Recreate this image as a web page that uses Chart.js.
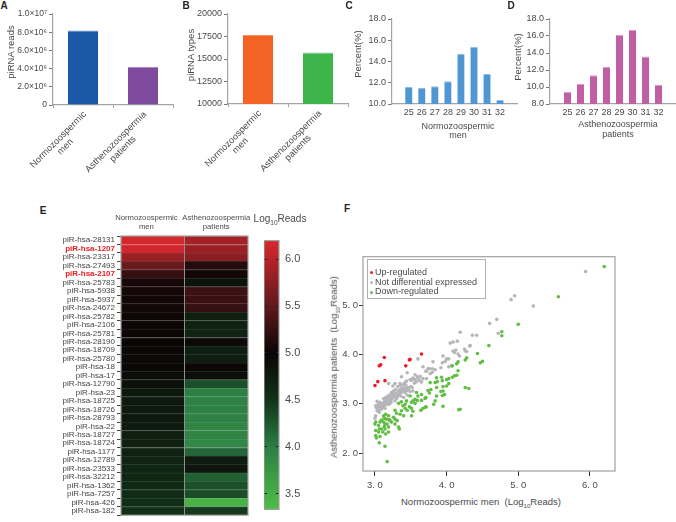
<!DOCTYPE html>
<html>
<head>
<meta charset="utf-8">
<title>piRNA panels</title>
<script src="https://cdn.jsdelivr.net/npm/chart.js@4"></script>
<style>
  html, body { margin: 0; padding: 0; background: #fff; }
  body { position: relative; width: 676px; height: 522px; overflow: hidden; font-family: "Liberation Sans", Arial, sans-serif; color: #4a4a4a; }
  canvas { position: absolute; }
  .txt { position: absolute; white-space: nowrap; transform: translate(-50%, -50%); text-align: center; line-height: 1.1; }
  sub { font-size: 0.65em; line-height: 0; }
  .letter { font-weight: bold; font-size: 10px; color: #222; }
  #legend { position: absolute; left: 367px; top: 259px; width: 117px; height: 38px; border: 1px solid #b0b0b0; font-size: 9px; z-index: 2; }
  #legend div { position: absolute; left: 2px; white-space: nowrap; line-height: 10px; }
  #legend i { display: inline-block; width: 3px; height: 3px; border-radius: 50%; margin-right: 2px; vertical-align: middle; }
</style>
</head>
<body>
<div id="legend"></div>
<script>
// ======================
// Data
// ======================
const groupLabels = [["Normozoospermic", "men"], ["Asthenozoospermia", "patients"]];

const readsValues = [8200000, 4200000];
const readsTicks = { 0: "0", 2000000: "2.0×10⁶", 4000000: "4.0×10⁶", 6000000: "6.0×10⁶", 8000000: "8.0×10⁶", 10000000: "1.0×10⁷" };
const typesValues = [17680, 15710];

const lengths = [25, 26, 27, 28, 29, 30, 31, 32];
const percentNormo = [11.6, 11.5, 11.67, 12.14, 14.74, 15.4, 12.82, 10.37];
const percentAstheno = [9.42, 10.36, 11.39, 12.37, 16.15, 16.74, 13.59, 10.24];

const piRnaNames = ["piR-hsa-28131", "piR-hsa-1207", "piR-hsa-23317", "piR-hsa-27493", "piR-hsa-2107", "piR-hsa-25783",
  "piR-hsa-5938", "piR-hsa-5937", "piR-hsa-24672", "piR-hsa-25782", "piR-hsa-2106", "piR-hsa-25781", "piR-hsa-28190",
  "piR-hsa-18709", "piR-hsa-25780", "piR-hsa-18", "piR-hsa-17", "piR-hsa-12790", "piR-hsa-23", "piR-hsa-18725",
  "piR-hsa-18726", "piR-hsa-28793", "piR-hsa-22", "piR-hsa-18727", "piR-hsa-18724", "piR-hsa-1177", "piR-hsa-12789",
  "piR-hsa-23533", "piR-hsa-32212", "piR-hsa-1362", "piR-hsa-7257", "piR-hsa-426", "piR-hsa-182"];
const highlighted = ["piR-hsa-1207", "piR-hsa-2107"];
const heatNormo = [6.18, 6.15, 5.85, 5.55, 5.25, 5.08, 5.06, 5.05, 5.04, 5.03, 5.02, 5.02, 5.0, 4.98, 4.96, 4.95, 4.9,
  4.88, 4.78, 4.78, 4.78, 4.78, 4.76, 4.7, 4.7, 4.68, 4.65, 4.63, 4.62, 4.6, 4.58, 4.55, 4.52];
const heatAstheno = [5.9, 5.85, 5.75, 5.15, 5.05, 4.85, 5.3, 5.28, 5.25, 4.7, 4.68, 4.66, 4.95, 4.72, 4.72, 5.02, 4.9,
  4.3, 3.98, 3.96, 3.96, 3.95, 3.93, 3.92, 3.9, 4.15, 4.75, 4.8, 4.2, 4.3, 4.32, 3.45, 4.45];
const heatStops = [[3.33, 78, 190, 72], [4.0, 44, 125, 68], [4.5, 18, 50, 25], [5.0, 10, 5, 5], [5.5, 95, 25, 28], [6.2, 216, 40, 46]];

const seriesNames = ["Up-regulated", "Not differential expressed", "Down-regulated"];
const seriesColors = ["#ed1c24", "#b6b6ba", "#62bd45"];
const upPoints = [[3.13, 3.94], [3.08, 3.79], [3.06, 3.77], [3.48, 3.89], [3.49, 3.9], [3.43, 3.77], [3.65, 4.01], [3.04, 3.45], [3.14, 3.47], [3.0, 3.37]];
const notDiffPoints = [[5.94, 5.68], [5.21, 4.98], [4.95, 5.19], [4.9, 5.11], [4.6, 4.63], [4.7, 4.71], [4.19, 4.45], [4.36, 4.39],
  [4.42, 4.39], [4.72, 4.43], [4.15, 4.27], [4.33, 4.18], [4.05, 4.23], [4.09, 4.25], [4.09, 4.07], [4.13, 4.09], [4.16, 4.01],
  [4.18, 3.97], [4.25, 4.11], [4.26, 4.07], [4.32, 4.17], [4.28, 4.06], [3.95, 3.97], [4.0, 3.91], [4.03, 3.91], [3.94, 3.83],
  [3.92, 3.73], [4.03, 3.75], [4.07, 3.77], [3.8, 3.71], [3.74, 3.71], [3.72, 3.66], [3.77, 3.61], [3.84, 3.69], [3.72, 3.51],
  [3.6, 3.91], [3.81, 3.85], [3.67, 3.75], [3.76, 3.71], [3.71, 3.66], [3.8, 3.64], [3.45, 3.63], [3.37, 3.55], [3.56, 3.59],
  [3.63, 3.56], [3.67, 3.51], [3.6, 3.53], [3.56, 3.49], [3.49, 3.49], [3.44, 3.46], [3.35, 3.41], [3.28, 3.41], [3.19, 3.41],
  [3.4, 3.39], [3.25, 3.36], [3.43, 3.38], [3.29, 3.29], [3.26, 3.26], [3.23, 3.23], [3.21, 3.18], [3.33, 3.25], [3.37, 3.23],
  [3.42, 3.23], [3.49, 3.25], [3.53, 3.26], [3.45, 3.18], [3.28, 3.16], [3.19, 3.11], [3.14, 3.06], [3.23, 3.09], [3.3, 3.11],
  [3.36, 3.16], [3.4, 3.13], [3.03, 3.05], [3.07, 3.03], [3.11, 3.01], [3.16, 3.03], [3.2, 3.06], [3.01, 2.96], [3.06, 2.94],
  [3.12, 2.96], [3.15, 2.98], [3.19, 2.99], [3.26, 3.14], [3.09, 2.89], [3.03, 2.86], [3.01, 2.76], [3.06, 2.83], [3.0, 2.71],
  [3.14, 2.91], [3.22, 3.03], [3.28, 3.06], [3.33, 3.18], [3.16, 3.07], [3.05, 2.88], [3.08, 2.95], [3.1, 2.99], [3.13, 3.02],
  [3.17, 3.08], [3.2, 3.12], [3.22, 3.15], [3.24, 3.19], [3.26, 3.21], [3.29, 3.22], [3.31, 3.19], [3.34, 3.28], [3.37, 3.31],
  [3.4, 3.32], [3.43, 3.31], [3.46, 3.33], [3.5, 3.35], [3.52, 3.33], [3.55, 3.42], [3.58, 3.45], [3.62, 3.48], [3.65, 3.44],
  [3.02, 2.92], [3.12, 3.1], [3.15, 3.13], [3.18, 3.16], [3.22, 3.02], [3.04, 2.98], [3.08, 3.0], [3.1, 2.93], [3.13, 2.98],
  [3.18, 3.03], [3.2, 3.0], [3.24, 3.12], [3.27, 3.17], [3.31, 3.14], [3.35, 3.22], [3.38, 3.27], [3.41, 3.27], [3.45, 3.27],
  [3.47, 3.3], [3.51, 3.48], [3.53, 3.52], [3.59, 3.55], [3.41, 3.42], [3.36, 3.37], [3.32, 3.35], [3.98, 3.86], [4.11, 4.04]];
const downPoints = [[6.2, 5.78], [5.56, 5.17], [5.0, 4.61], [4.77, 4.46], [4.77, 4.38], [4.59, 4.18], [4.43, 4.02], [4.28, 3.93],
  [4.26, 3.89], [4.5, 3.86], [4.47, 3.83], [4.16, 3.85], [4.14, 3.81], [4.08, 3.77], [4.16, 3.67], [4.14, 3.58], [4.11, 3.57],
  [4.08, 3.54], [4.03, 3.51], [4.0, 3.49], [3.93, 3.54], [3.86, 3.53], [3.94, 3.47], [3.87, 3.45], [3.84, 3.43], [3.77, 3.43],
  [4.03, 3.41], [4.0, 3.36], [3.95, 3.35], [3.86, 3.33], [3.78, 3.29], [3.74, 3.27], [3.76, 3.22], [3.95, 3.26], [3.92, 3.25],
  [3.97, 3.19], [3.94, 3.17], [3.86, 3.16], [3.84, 3.06], [3.82, 2.99], [3.71, 3.13], [3.95, 2.95], [4.26, 3.33], [4.31, 3.31],
  [4.19, 2.89], [4.17, 2.88], [3.71, 2.93], [3.12, 2.76], [3.15, 2.79], [3.19, 2.76], [3.13, 2.71], [3.09, 2.67], [3.16, 2.69],
  [3.2, 2.68], [3.26, 2.73], [3.28, 2.69], [3.31, 2.66], [3.23, 2.63], [3.28, 2.59], [3.33, 2.53], [3.34, 2.49], [3.01, 2.63],
  [3.0, 2.59], [3.05, 2.56], [3.01, 2.46], [3.07, 2.63], [3.12, 2.63], [3.14, 2.59], [3.17, 2.59], [3.19, 2.53], [3.21, 2.66],
  [3.14, 2.49], [3.11, 2.43], [3.05, 2.43], [3.07, 2.34], [3.02, 2.31], [3.06, 2.21], [3.14, 2.14], [3.13, 2.54], [3.06, 2.49],
  [3.09, 2.49], [3.01, 2.36], [3.15, 2.39], [3.19, 2.43], [3.17, 1.83], [3.33, 3.01], [3.37, 3.04], [3.44, 3.06], [3.49, 3.16],
  [3.58, 3.23], [3.6, 3.16], [3.56, 3.09], [3.53, 3.06], [3.51, 3.03], [3.65, 3.19], [3.7, 3.11], [3.65, 3.07], [3.39, 2.96],
  [3.42, 2.91], [3.37, 2.86], [3.35, 2.79], [3.4, 2.76], [3.28, 2.87], [3.3, 2.81], [3.51, 2.91], [3.53, 2.85], [3.51, 2.76],
  [3.64, 2.87], [3.67, 2.91], [3.71, 2.94], [3.56, 3.01], [3.59, 3.07], [3.45, 2.87], [3.48, 2.94], [3.42, 2.99]];

// ======================
// Helpers
// ======================
Chart.defaults.font.family = '"Liberation Sans", Arial, sans-serif';
Chart.defaults.font.size = 9;
Chart.defaults.color = "#4a4a4a";
Chart.defaults.animation = false;
Chart.defaults.responsive = false;
Chart.defaults.plugins.legend.display = false;
Chart.defaults.plugins.tooltip.enabled = false;

const AXIS = "#a3a3a3";

// canvas placed so that the plot area lands on l,t,r,b
// ml/mt/mr/mb is the room around the plot, axes included
function makeChart(l, t, r, b, ml, mt, mr, mb, config) {
  const c = document.createElement("canvas");
  c.width = r - l + ml + mr;
  c.height = b - t + mt + mb;
  c.style.left = l - ml + "px";
  c.style.top = t - mt + "px";
  document.body.appendChild(c);
  const topAxis = config.options.scales.x.position === "top";
  const rightAxis = config.options.scales.y.position === "right";
  config.options.layout = { padding: { top: topAxis ? 0 : mt, right: rightAxis ? 0 : mr } };
  config.options.scales.x.afterFit = (s) => { s.height = topAxis ? mt : mb; };
  config.options.scales.y.afterFit = (s) => { s.width = rightAxis ? mr : ml; };
  return new Chart(c.getContext("2d"), config);
}

function addText(html, x, y, size, rotate, cls) {
  const d = document.createElement("div");
  d.className = "txt" + (cls ? " " + cls : "");
  d.innerHTML = html;
  d.style.left = x + "px";
  d.style.top = y + "px";
  if (size) d.style.fontSize = size + "px";
  if (rotate) d.style.transform = "translate(-50%, -50%) rotate(" + rotate + "deg)";
  document.body.appendChild(d);
}

// two-line x labels turned 45 degrees, lines centred on each other
const slantLabels = {
  id: "slantLabels",
  afterDraw(chart) {
    const ctx = chart.ctx;
    const scale = chart.scales.x;
    ctx.save();
    ctx.font = '9.3px "Liberation Sans", Arial, sans-serif';
    ctx.fillStyle = "#4a4a4a";
    ctx.textAlign = "center";
    ctx.textBaseline = "middle";
    chart.data.labels.forEach((lines, i) => {
      const w = ctx.measureText(lines[0]).width;
      ctx.save();
      ctx.translate(scale.getPixelForTick(i) + 2, scale.top + 8);
      ctx.rotate(-Math.PI / 4);
      lines.forEach((line, n) => ctx.fillText(line, -w / 2, n * 10));
      ctx.restore();
    });
    ctx.restore();
  },
};

const frame = {
  id: "frame",
  afterDraw(chart) {
    const a = chart.chartArea;
    chart.ctx.save();
    chart.ctx.strokeStyle = "#a0a0a0";
    chart.ctx.lineWidth = 1.2;
    chart.ctx.strokeRect(a.left, a.top, a.right - a.left, a.bottom - a.top);
    chart.ctx.restore();
  },
};

function heatColor(v, lighten) {
  let i = 0;
  while (i < heatStops.length - 2 && v > heatStops[i + 1][0]) i++;
  const a = heatStops[i], b = heatStops[i + 1];
  const f = Math.min(1, Math.max(0, (v - a[0]) / (b[0] - a[0])));
  const w = lighten || 0;
  const ch = [1, 2, 3].map((k) => {
    const c = a[k] + (b[k] - a[k]) * f;
    return Math.round(c + (255 - c) * w);
  });
  return "rgb(" + ch.join(",") + ")";
}

function barAxes(yMin, yMax, step, yCallback, xExtra, tickSize) {
  return {
    x: Object.assign({
      grid: { display: true, drawOnChartArea: false, drawTicks: true, tickLength: 3, tickColor: AXIS },
      border: { color: AXIS, width: 1.2 },
    }, xExtra),
    y: {
      min: yMin,
      max: yMax,
      ticks: { stepSize: step, callback: yCallback, padding: 2, color: "#4a4a4a", font: { size: tickSize || 9 } },
      grid: { display: true, drawOnChartArea: false, tickLength: 4, tickColor: "#777" },
      border: { color: AXIS, width: 1.2 },
    },
  };
}

// ======================
// A, B: totals
// ======================
makeChart(53, 14, 173, 105.5, 40, 8, 4, 75, {
  type: "bar",
  data: {
    labels: groupLabels,
    datasets: [{ data: readsValues, backgroundColor: ["#1a58a6", "#7d4a9d"], borderColor: ["#5c8ac4", "#a184ba"], borderWidth: { top: 1 }, borderSkipped: false, barPercentage: 0.5, categoryPercentage: 1 }],
  },
  options: { scales: barAxes(0, 10000000, 2000000, (v) => readsTicks[v], { ticks: { display: false } }, 8.5) },
  plugins: [slantLabels],
});

makeChart(228, 14, 348, 104.5, 40, 8, 4, 75, {
  type: "bar",
  data: {
    labels: groupLabels,
    datasets: [{ data: typesValues, backgroundColor: ["#f26324", "#3db54a"], borderColor: ["#f78f60", "#78cc81"], borderWidth: { top: 1 }, borderSkipped: false, barPercentage: 0.5, categoryPercentage: 1 }],
  },
  options: { scales: barAxes(10000, 20000, 2500, (v) => String(v), { ticks: { display: false } }) },
  plugins: [slantLabels],
});

// ======================
// C, D: read length
// ======================
function lengthAxis(min, max) {
  return {
    type: "linear",
    min: min,
    max: max,
    ticks: { stepSize: 1, includeBounds: false, autoSkip: false, minRotation: 0, maxRotation: 0, padding: 3, color: "#4a4a4a", font: { size: 9 }, callback: (v) => String(v) },
    grid: { display: true, drawOnChartArea: false, drawTicks: false },
    border: { color: AXIS, width: 1.2 },
  };
}

makeChart(392, 19, 517, 104.5, 34, 8, 4, 24, {
  type: "bar",
  data: { labels: lengths, datasets: [{ data: percentNormo, backgroundColor: "#4f97d3", borderColor: "#8dbde4", borderWidth: { top: 1 }, borderSkipped: false, barPercentage: 0.56, categoryPercentage: 1 }] },
  options: { scales: barAxes(10, 18, 2, (v) => v.toFixed(1), lengthAxis(24.31, 32.7)) },
});

makeChart(549.5, 19, 676, 104, 34, 8, 0, 24, {
  type: "bar",
  data: { labels: lengths, datasets: [{ data: percentAstheno, backgroundColor: "#c05fa3", borderColor: "#dc9ac8", borderWidth: { top: 1 }, borderSkipped: false, barPercentage: 0.56, categoryPercentage: 1 }] },
  options: { scales: barAxes(8, 18, 2, (v) => v.toFixed(1), lengthAxis(24.26, 32.73)) },
});

// ======================
// E: heat map as floating bars
// ======================
function heatDataset(values, from) {
  return {
    data: values.map(() => [from, from + 1]),
    backgroundColor: values.map((v) => heatColor(v)),
    borderColor: values.map((v) => heatColor(v, 0.1)),
    borderWidth: { top: 1 },
    borderSkipped: false,
    barPercentage: 1,
    categoryPercentage: 1,
    grouped: false,
  };
}

makeChart(120.5, 236, 248, 520, 66, 24, 10, 2, {
  type: "bar",
  data: { labels: piRnaNames, datasets: [heatDataset(heatNormo, 0), heatDataset(heatAstheno, 1)] },
  options: {
    indexAxis: "y",
    scales: {
      x: {
        position: "top",
        min: 0,
        max: 2,
        // the first header sits a little left of its column in the reference
        afterBuildTicks: (s) => { s.ticks = [{ value: 0.4 }, { value: 1 }, { value: 1.5 }]; },
        ticks: {
          autoSkip: false, minRotation: 0, maxRotation: 0, padding: 4, font: { size: 7.7 },
          callback: (v) => (v === 0.4 ? groupLabels[0] : v === 1.5 ? groupLabels[1] : ""),
        },
        grid: { z: 1, drawTicks: false, color: (c) => (c.tick && c.tick.value === 1 ? "#8f8f8f" : "rgba(0,0,0,0)") },
        border: { display: false },
      },
      y: {
        type: "category",
        ticks: {
          autoSkip: false, padding: 2,
          color: (c) => (highlighted.includes(piRnaNames[c.index]) ? "#ed1c24" : "#444"),
          font: (c) => ({ size: 8, weight: highlighted.includes(piRnaNames[c.index]) ? "bold" : "normal" }),
        },
        grid: { drawOnChartArea: false, tickLength: 4, tickColor: "#444" },
        border: { display: false },
      },
    },
  },
  plugins: [frame],
});

// colour bar
makeChart(264, 236, 279, 520, 0, 8, 30, 2, {
  type: "bar",
  data: {
    labels: ["scale"],
    datasets: [{
      data: [[heatStops[0][0], heatStops[heatStops.length - 1][0]]],
      backgroundColor: (c) => {
        const a = c.chart.chartArea;
        if (!a) return "#000";
        const g = c.chart.ctx.createLinearGradient(0, a.bottom, 0, a.top);
        const lo = heatStops[0][0], hi = heatStops[heatStops.length - 1][0];
        heatStops.forEach((s) => g.addColorStop((s[0] - lo) / (hi - lo), heatColor(s[0])));
        return g;
      },
      barPercentage: 1,
      categoryPercentage: 1,
    }],
  },
  options: {
    scales: {
      x: { display: false },
      y: {
        position: "right",
        min: heatStops[0][0],
        max: heatStops[heatStops.length - 1][0],
        ticks: { stepSize: 0.5, includeBounds: false, padding: 6, font: { size: 11 }, color: "#4a4a4a", callback: (v) => v.toFixed(1) },
        grid: { z: 1, drawTicks: false, color: "#222" },
        border: { display: false, dash: [3, 9, 3] },
      },
    },
  },
  plugins: [frame],
});

// ======================
// F: scatter
// ======================
makeChart(363, 254, 615, 471, 26, 4, 8, 20, {
  type: "scatter",
  data: {
    datasets: [
      { label: seriesNames[0], data: upPoints, backgroundColor: seriesColors[0], pointRadius: 1.8, borderWidth: 0 },
      { label: seriesNames[2], data: downPoints, backgroundColor: seriesColors[2], pointRadius: 1.8, borderWidth: 0 },
      { label: seriesNames[1], data: notDiffPoints, backgroundColor: seriesColors[1], pointRadius: 1.8, borderWidth: 0 },
    ],
  },
  options: {
    scales: {
      x: {
        min: 2.833,
        max: 6.35,
        ticks: { stepSize: 1, includeBounds: false, padding: 4, font: { size: 9.5 }, color: "#4a4a4a", callback: (v) => v.toFixed(1).replace(".", ". ") },
        grid: { drawOnChartArea: false, tickLength: 5, tickColor: "#333" },
        border: { display: false },
      },
      y: {
        min: 1.64,
        max: 5.98,
        ticks: { stepSize: 1, includeBounds: false, padding: 1, font: { size: 9.5 }, color: "#4a4a4a", callback: (v) => v.toFixed(1).replace(".", ". ") },
        grid: { drawOnChartArea: false, tickLength: 4, tickColor: "#333" },
        border: { display: false },
      },
    },
  },
  plugins: [frame],
});

// legend box
const legendBox = document.getElementById("legend");
seriesNames.forEach((name, i) => {
  const row = document.createElement("div");
  row.style.top = 7 + i * 9.7 + "px";
  row.innerHTML = '<i style="background:' + seriesColors[i] + '"></i>' + name;
  legendBox.appendChild(row);
});

// ======================
// Free text
// ======================
addText("A", 4, 5, 0, 0, "letter");
addText("B", 186, 5, 0, 0, "letter");
addText("C", 349, 5, 0, 0, "letter");
addText("D", 511, 5, 0, 0, "letter");
addText("E", 43, 210, 0, 0, "letter");
addText("F", 347, 208, 0, 0, "letter");

addText("piRNA reads", 11, 52, 9.5, -90);
addText("piRNA types", 191, 55, 9.5, -90);
addText("Percent(%)", 358, 54, 9.5, -90);
addText("Percent(%)", 518, 57, 9.5, -90);
addText("Normozoospermic<br>men", 458, 131.5, 9);
addText("Asthenozoospermia<br>patients", 618, 130, 9);
addText("Log<sub>10</sub>Reads", 280, 218, 10);
addText("Normozoospermic men &nbsp;(Log<sub>10</sub>Reads)", 481, 502, 9.5);
addText("Asthenozoospermia patients &nbsp;(Log<sub>10</sub>Reads)", 334, 367, 9.5, -90);
</script>
</body>
</html>
